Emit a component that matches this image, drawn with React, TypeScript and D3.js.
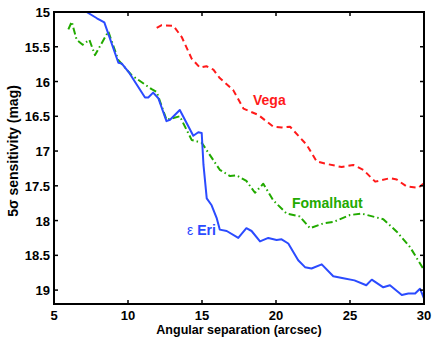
import React from 'react';
import * as d3 from 'd3';

// separation (arcsec) and 5-sigma sensitivity (mag)
const eriX = [7.0, 7.2, 7.9, 8.4, 9.35, 9.57, 10.1, 11.15, 11.37, 11.7, 12.05, 12.6, 12.84, 13.5, 14.41, 14.75, 14.98, 15.1, 15.32, 15.65, 16.0, 16.2, 16.67, 17.45, 18.0, 18.35, 18.92, 19.48, 20.04, 20.38, 20.83, 21.5, 21.96, 22.4, 23.09, 23.87, 24.55, 25.3, 26.1, 26.47, 27.25, 27.7, 28.5, 28.94, 29.4, 29.73, 30.0];
const eriY = [14.95, 15.0, 15.09, 15.15, 15.73, 15.74, 15.88, 16.23, 16.23, 16.16, 16.24, 16.57, 16.55, 16.41, 16.78, 16.73, 16.74, 17.2, 17.68, 17.78, 17.97, 18.13, 18.15, 18.25, 18.11, 18.15, 18.3, 18.25, 18.28, 18.27, 18.33, 18.57, 18.67, 18.69, 18.63, 18.8, 18.83, 18.86, 18.93, 18.85, 18.96, 18.93, 19.07, 19.05, 19.05, 18.98, 19.12];

const fomX = [5.97, 6.2, 6.53, 6.94, 7.39, 7.77, 8.67, 9.34, 10.25, 11.6, 11.94, 12.6, 13.5, 14.3, 14.98, 16.2, 16.9, 17.34, 18.0, 18.58, 19.14, 19.82, 20.72, 21.6, 22.3, 23.2, 23.87, 25.0, 25.79, 27.25, 28.16, 29.05, 30.0];
const fomY = [15.25, 15.14, 15.4, 15.47, 15.4, 15.62, 15.28, 15.69, 15.91, 16.11, 16.15, 16.55, 16.5, 16.84, 16.88, 17.27, 17.36, 17.35, 17.43, 17.6, 17.47, 17.71, 17.9, 17.94, 18.11, 18.04, 18.02, 17.92, 17.9, 17.98, 18.16, 18.38, 18.71];

const vegaX = [11.94, 12.28, 13.07, 13.63, 14.3, 14.86, 15.3, 15.77, 16.2, 17.1, 17.8, 18.24, 18.8, 19.82, 20.4, 20.95, 22.07, 22.75, 23.3, 24.44, 25.22, 25.9, 26.7, 27.7, 28.16, 28.83, 29.6, 29.95];
const vegaY = [15.23, 15.19, 15.2, 15.36, 15.67, 15.8, 15.78, 15.83, 15.95, 16.12, 16.39, 16.43, 16.48, 16.65, 16.66, 16.65, 16.91, 17.15, 17.18, 17.23, 17.2, 17.27, 17.44, 17.39, 17.41, 17.51, 17.53, 17.47];

const xTicks = [5, 10, 15, 20, 25, 30];
const yTicks = [15, 15.5, 16, 16.5, 17, 17.5, 18, 18.5, 19];

const width = 436;
const height = 340;
const margin = { top: 12, right: 12, bottom: 36, left: 54 };
const font = 'Liberation Sans, Arial, Helvetica, sans-serif';

export default function App() {
	const x = d3.scaleLinear().domain([5, 30]).range([margin.left, width - margin.right]);
	const y = d3.scaleLinear().domain([15, 19.2]).range([margin.top, height - margin.bottom]);

	const line = d3
		.line<[number, number]>()
		.x((d) => x(d[0]))
		.y((d) => y(d[1]));

	const series = [
		{ xs: vegaX, ys: vegaY, color: '#ff1a1a', dash: '6,4' },
		{ xs: fomX, ys: fomY, color: '#22aa00', dash: '7,3,1.5,3' },
		{ xs: eriX, ys: eriY, color: '#2b4bff', dash: null },
	];

	const x0 = margin.left;
	const x1 = width - margin.right;
	const y0 = margin.top;
	const y1 = height - margin.bottom;

	return (
		<svg width={width} height={height} style={{ position: 'absolute', left: 0, top: 0 }}>
			<rect width={width} height={height} fill="#fff" />
			<defs>
				<clipPath id="plot">
					<rect x={x0} y={y0} width={x1 - x0} height={y1 - y0} />
				</clipPath>
			</defs>
			<g clipPath="url(#plot)">
				{series.map((s, i) => (
					<path
						key={i}
						d={line(s.xs.map((v, j) => [v, s.ys[j]] as [number, number])) || ''}
						fill="none"
						stroke={s.color}
						strokeWidth={2}
						strokeDasharray={s.dash || undefined}
						strokeLinejoin="round"
					/>
				))}
			</g>
			{/* frame + inward ticks on all four sides */}
			<rect x={x0} y={y0} width={x1 - x0} height={y1 - y0} fill="none" stroke="#000" strokeWidth={2} />
			{xTicks.map((t) => (
				<g key={'x' + t}>
					<line x1={x(t)} x2={x(t)} y1={y1} y2={y1 - 4} stroke="#000" strokeWidth={1.5} />
					<line x1={x(t)} x2={x(t)} y1={y0} y2={y0 + 4} stroke="#000" strokeWidth={1.5} />
					<text x={x(t)} y={y1 + 16} textAnchor="middle" fontFamily={font} fontWeight="bold" fontSize={13}>
						{t}
					</text>
				</g>
			))}
			{yTicks.map((t) => (
				<g key={'y' + t}>
					<line x1={x0} x2={x0 + 4} y1={y(t)} y2={y(t)} stroke="#000" strokeWidth={1.5} />
					<line x1={x1} x2={x1 - 4} y1={y(t)} y2={y(t)} stroke="#000" strokeWidth={1.5} />
					<text x={x0 - 4} y={y(t) + 5} textAnchor="end" fontFamily={font} fontWeight="bold" fontSize={13}>
						{t}
					</text>
				</g>
			))}
			<text x={(x0 + x1) / 2} y={334} textAnchor="middle" fontFamily={font} fontWeight="bold" fontSize={12.5}>
				Angular separation (arcsec)
			</text>
			<text
				transform="translate(18,151) rotate(-90)"
				textAnchor="middle"
				fontFamily={font}
				fontWeight="bold"
				fontSize={14}
			>
				5σ sensitivity (mag)
			</text>
			<text x={253} y={105} fontFamily={font} fontWeight="bold" fontSize={14} fill="#ff1a1a">
				Vega
			</text>
			<text x={292} y={208} fontFamily={font} fontWeight="bold" fontSize={14} fill="#22aa00">
				Fomalhaut
			</text>
			<text x={187} y={235} fontFamily={font} fontWeight="bold" fontSize={14} fill="#2b4bff">
				<tspan fontWeight="normal">ε</tspan> Eri
			</text>
		</svg>
	);
}
